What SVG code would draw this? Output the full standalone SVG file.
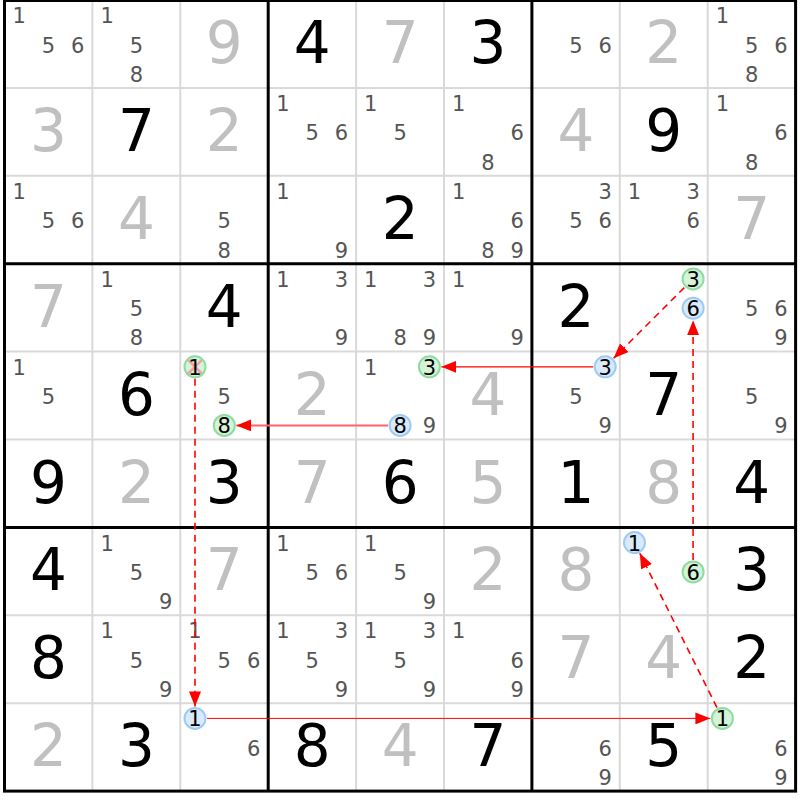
<svg xmlns="http://www.w3.org/2000/svg" width="800" height="800" viewBox="0 0 800 800">
<style>
text{font-family:"DejaVu Sans","Liberation Sans",sans-serif;text-anchor:middle}
.g{font-size:58px;fill:#000}
.s{font-size:58px;fill:#c0c0c0}
.c{font-size:21px;fill:#555}
.k{font-size:21px;fill:#000}
.cb{fill:#d9eafc;stroke:#9ccbf5;stroke-width:2}
.cg{fill:#d5f3d8;stroke:#8edc9e;stroke-width:2}
.thin{stroke:#d9d9d9;stroke-width:2}
.thick{stroke:#000;stroke-width:3}
.dash{stroke:#ff0000;stroke-width:1.6;stroke-dasharray:7 5;fill:none;marker-end:url(#ah)}
.sol{stroke:#ff0000;stroke-width:1.2;fill:none;marker-end:url(#ah)}
</style>
<defs>
<marker id="ah" markerUnits="userSpaceOnUse" markerWidth="15" markerHeight="12" refX="15" refY="6" orient="auto"><path d="M0,0 L15,6 L0,12 z" fill="#ff0000"/></marker>
</defs>
<rect x="0" y="0" width="800" height="800" fill="#fff"/>
<g id="grid">
<path class="thin" d="M92.4,0V791.1M180.3,0V791.1M356.1,0V791.1M444,0V791.1M619.8,0V791.1M707.7,0V791.1M4.5,87.9H795.6M4.5,175.8H795.6M4.5,351.6H795.6M4.5,439.5H795.6M4.5,615.3H795.6M4.5,703.2H795.6"/>
<path class="thick" d="M268.2,0V791.1M531.9,0V791.1M4.5,263.7H795.6M4.5,527.4H795.6"/>
<rect x="4.5" y="0.5" width="791.1" height="790.6" fill="none" stroke="#000" stroke-width="3"/>
</g>
<g id="cells">
<g id="r1c1" transform="translate(4.5,0)"><text class="c" x="14.7" y="23.2">1</text><text class="c" x="44" y="52.5">5</text><text class="c" x="73.3" y="52.5">6</text></g>
<g id="r1c2" transform="translate(92.4,0)"><text class="c" x="14.7" y="23.2">1</text><text class="c" x="44" y="52.5">5</text><text class="c" x="44" y="81.8">8</text></g>
<g id="r1c3" transform="translate(180.3,0)"><text class="s" x="44" y="63">9</text></g>
<g id="r1c4" transform="translate(268.2,0)"><text class="g" x="44" y="63">4</text></g>
<g id="r1c5" transform="translate(356.1,0)"><text class="s" x="44" y="63">7</text></g>
<g id="r1c6" transform="translate(444,0)"><text class="g" x="44" y="63">3</text></g>
<g id="r1c7" transform="translate(531.9,0)"><text class="c" x="44" y="52.5">5</text><text class="c" x="73.3" y="52.5">6</text></g>
<g id="r1c8" transform="translate(619.8,0)"><text class="s" x="44" y="63">2</text></g>
<g id="r1c9" transform="translate(707.7,0)"><text class="c" x="14.7" y="23.2">1</text><text class="c" x="44" y="52.5">5</text><text class="c" x="73.3" y="52.5">6</text><text class="c" x="44" y="81.8">8</text></g>

<g id="r2c1" transform="translate(4.5,87.9)"><text class="s" x="44" y="63">3</text></g>
<g id="r2c2" transform="translate(92.4,87.9)"><text class="g" x="44" y="63">7</text></g>
<g id="r2c3" transform="translate(180.3,87.9)"><text class="s" x="44" y="63">2</text></g>
<g id="r2c4" transform="translate(268.2,87.9)"><text class="c" x="14.7" y="23.2">1</text><text class="c" x="44" y="52.5">5</text><text class="c" x="73.3" y="52.5">6</text></g>
<g id="r2c5" transform="translate(356.1,87.9)"><text class="c" x="14.7" y="23.2">1</text><text class="c" x="44" y="52.5">5</text></g>
<g id="r2c6" transform="translate(444,87.9)"><text class="c" x="14.7" y="23.2">1</text><text class="c" x="73.3" y="52.5">6</text><text class="c" x="44" y="81.8">8</text></g>
<g id="r2c7" transform="translate(531.9,87.9)"><text class="s" x="44" y="63">4</text></g>
<g id="r2c8" transform="translate(619.8,87.9)"><text class="g" x="44" y="63">9</text></g>
<g id="r2c9" transform="translate(707.7,87.9)"><text class="c" x="14.7" y="23.2">1</text><text class="c" x="73.3" y="52.5">6</text><text class="c" x="44" y="81.8">8</text></g>

<g id="r3c1" transform="translate(4.5,175.8)"><text class="c" x="14.7" y="23.2">1</text><text class="c" x="44" y="52.5">5</text><text class="c" x="73.3" y="52.5">6</text></g>
<g id="r3c2" transform="translate(92.4,175.8)"><text class="s" x="44" y="63">4</text></g>
<g id="r3c3" transform="translate(180.3,175.8)"><text class="c" x="44" y="52.5">5</text><text class="c" x="44" y="81.8">8</text></g>
<g id="r3c4" transform="translate(268.2,175.8)"><text class="c" x="14.7" y="23.2">1</text><text class="c" x="73.3" y="81.8">9</text></g>
<g id="r3c5" transform="translate(356.1,175.8)"><text class="g" x="44" y="63">2</text></g>
<g id="r3c6" transform="translate(444,175.8)"><text class="c" x="14.7" y="23.2">1</text><text class="c" x="73.3" y="52.5">6</text><text class="c" x="44" y="81.8">8</text><text class="c" x="73.3" y="81.8">9</text></g>
<g id="r3c7" transform="translate(531.9,175.8)"><text class="c" x="73.3" y="23.2">3</text><text class="c" x="44" y="52.5">5</text><text class="c" x="73.3" y="52.5">6</text></g>
<g id="r3c8" transform="translate(619.8,175.8)"><text class="c" x="14.7" y="23.2">1</text><text class="c" x="73.3" y="23.2">3</text><text class="c" x="73.3" y="52.5">6</text></g>
<g id="r3c9" transform="translate(707.7,175.8)"><text class="s" x="44" y="63">7</text></g>

<g id="r4c1" transform="translate(4.5,263.7)"><text class="s" x="44" y="63">7</text></g>
<g id="r4c2" transform="translate(92.4,263.7)"><text class="c" x="14.7" y="23.2">1</text><text class="c" x="44" y="52.5">5</text><text class="c" x="44" y="81.8">8</text></g>
<g id="r4c3" transform="translate(180.3,263.7)"><text class="g" x="44" y="63">4</text></g>
<g id="r4c4" transform="translate(268.2,263.7)"><text class="c" x="14.7" y="23.2">1</text><text class="c" x="73.3" y="23.2">3</text><text class="c" x="73.3" y="81.8">9</text></g>
<g id="r4c5" transform="translate(356.1,263.7)"><text class="c" x="14.7" y="23.2">1</text><text class="c" x="73.3" y="23.2">3</text><text class="c" x="44" y="81.8">8</text><text class="c" x="73.3" y="81.8">9</text></g>
<g id="r4c6" transform="translate(444,263.7)"><text class="c" x="14.7" y="23.2">1</text><text class="c" x="73.3" y="81.8">9</text></g>
<g id="r4c7" transform="translate(531.9,263.7)"><text class="g" x="44" y="63">2</text></g>
<g id="r4c8" transform="translate(619.8,263.7)"><circle class="cg" cx="73.3" cy="15.2" r="10.5"/><text class="k" x="73.3" y="23.2">3</text><circle class="cb" cx="73.3" cy="44.5" r="10.5"/><text class="k" x="73.3" y="52.5">6</text></g>
<g id="r4c9" transform="translate(707.7,263.7)"><text class="c" x="44" y="52.5">5</text><text class="c" x="73.3" y="52.5">6</text><text class="c" x="73.3" y="81.8">9</text></g>

<g id="r5c1" transform="translate(4.5,351.6)"><text class="c" x="14.7" y="23.2">1</text><text class="c" x="44" y="52.5">5</text></g>
<g id="r5c2" transform="translate(92.4,351.6)"><text class="g" x="44" y="63">6</text></g>
<g id="r5c3" transform="translate(180.3,351.6)"><circle class="cg" cx="14.7" cy="15.2" r="10.5"/><path d="M8,8.5L21.4,21.9M21.4,8.5L8,21.9" stroke="#f2a0a0" stroke-width="2.5"/><text class="k" x="14.7" y="23.2">1</text><text class="c" x="44" y="52.5">5</text><circle class="cg" cx="44" cy="73.8" r="10.5"/><text class="k" x="44" y="81.8">8</text></g>
<g id="r5c4" transform="translate(268.2,351.6)"><text class="s" x="44" y="63">2</text></g>
<g id="r5c5" transform="translate(356.1,351.6)"><text class="c" x="14.7" y="23.2">1</text><circle class="cg" cx="73.3" cy="15.2" r="10.5"/><text class="k" x="73.3" y="23.2">3</text><circle class="cb" cx="44" cy="73.8" r="10.5"/><text class="k" x="44" y="81.8">8</text><text class="c" x="73.3" y="81.8">9</text></g>
<g id="r5c6" transform="translate(444,351.6)"><text class="s" x="44" y="63">4</text></g>
<g id="r5c7" transform="translate(531.9,351.6)"><circle class="cb" cx="73.3" cy="15.2" r="10.5"/><text class="k" x="73.3" y="23.2">3</text><text class="c" x="44" y="52.5">5</text><text class="c" x="73.3" y="81.8">9</text></g>
<g id="r5c8" transform="translate(619.8,351.6)"><text class="g" x="44" y="63">7</text></g>
<g id="r5c9" transform="translate(707.7,351.6)"><text class="c" x="44" y="52.5">5</text><text class="c" x="73.3" y="81.8">9</text></g>

<g id="r6c1" transform="translate(4.5,439.5)"><text class="g" x="44" y="63">9</text></g>
<g id="r6c2" transform="translate(92.4,439.5)"><text class="s" x="44" y="63">2</text></g>
<g id="r6c3" transform="translate(180.3,439.5)"><text class="g" x="44" y="63">3</text></g>
<g id="r6c4" transform="translate(268.2,439.5)"><text class="s" x="44" y="63">7</text></g>
<g id="r6c5" transform="translate(356.1,439.5)"><text class="g" x="44" y="63">6</text></g>
<g id="r6c6" transform="translate(444,439.5)"><text class="s" x="44" y="63">5</text></g>
<g id="r6c7" transform="translate(531.9,439.5)"><text class="g" x="44" y="63">1</text></g>
<g id="r6c8" transform="translate(619.8,439.5)"><text class="s" x="44" y="63">8</text></g>
<g id="r6c9" transform="translate(707.7,439.5)"><text class="g" x="44" y="63">4</text></g>

<g id="r7c1" transform="translate(4.5,527.4)"><text class="g" x="44" y="63">4</text></g>
<g id="r7c2" transform="translate(92.4,527.4)"><text class="c" x="14.7" y="23.2">1</text><text class="c" x="44" y="52.5">5</text><text class="c" x="73.3" y="81.8">9</text></g>
<g id="r7c3" transform="translate(180.3,527.4)"><text class="s" x="44" y="63">7</text></g>
<g id="r7c4" transform="translate(268.2,527.4)"><text class="c" x="14.7" y="23.2">1</text><text class="c" x="44" y="52.5">5</text><text class="c" x="73.3" y="52.5">6</text></g>
<g id="r7c5" transform="translate(356.1,527.4)"><text class="c" x="14.7" y="23.2">1</text><text class="c" x="44" y="52.5">5</text><text class="c" x="73.3" y="81.8">9</text></g>
<g id="r7c6" transform="translate(444,527.4)"><text class="s" x="44" y="63">2</text></g>
<g id="r7c7" transform="translate(531.9,527.4)"><text class="s" x="44" y="63">8</text></g>
<g id="r7c8" transform="translate(619.8,527.4)"><circle class="cb" cx="14.7" cy="15.2" r="10.5"/><text class="k" x="14.7" y="23.2">1</text><circle class="cg" cx="73.3" cy="44.5" r="10.5"/><text class="k" x="73.3" y="52.5">6</text></g>
<g id="r7c9" transform="translate(707.7,527.4)"><text class="g" x="44" y="63">3</text></g>

<g id="r8c1" transform="translate(4.5,615.3)"><text class="g" x="44" y="63">8</text></g>
<g id="r8c2" transform="translate(92.4,615.3)"><text class="c" x="14.7" y="23.2">1</text><text class="c" x="44" y="52.5">5</text><text class="c" x="73.3" y="81.8">9</text></g>
<g id="r8c3" transform="translate(180.3,615.3)"><text class="c" x="14.7" y="23.2">1</text><text class="c" x="44" y="52.5">5</text><text class="c" x="73.3" y="52.5">6</text></g>
<g id="r8c4" transform="translate(268.2,615.3)"><text class="c" x="14.7" y="23.2">1</text><text class="c" x="73.3" y="23.2">3</text><text class="c" x="44" y="52.5">5</text><text class="c" x="73.3" y="81.8">9</text></g>
<g id="r8c5" transform="translate(356.1,615.3)"><text class="c" x="14.7" y="23.2">1</text><text class="c" x="73.3" y="23.2">3</text><text class="c" x="44" y="52.5">5</text><text class="c" x="73.3" y="81.8">9</text></g>
<g id="r8c6" transform="translate(444,615.3)"><text class="c" x="14.7" y="23.2">1</text><text class="c" x="73.3" y="52.5">6</text><text class="c" x="73.3" y="81.8">9</text></g>
<g id="r8c7" transform="translate(531.9,615.3)"><text class="s" x="44" y="63">7</text></g>
<g id="r8c8" transform="translate(619.8,615.3)"><text class="s" x="44" y="63">4</text></g>
<g id="r8c9" transform="translate(707.7,615.3)"><text class="g" x="44" y="63">2</text></g>

<g id="r9c1" transform="translate(4.5,703.2)"><text class="s" x="44" y="63">2</text></g>
<g id="r9c2" transform="translate(92.4,703.2)"><text class="g" x="44" y="63">3</text></g>
<g id="r9c3" transform="translate(180.3,703.2)"><circle class="cb" cx="14.7" cy="15.2" r="10.5"/><text class="k" x="14.7" y="23.2">1</text><text class="c" x="73.3" y="52.5">6</text></g>
<g id="r9c4" transform="translate(268.2,703.2)"><text class="g" x="44" y="63">8</text></g>
<g id="r9c5" transform="translate(356.1,703.2)"><text class="s" x="44" y="63">4</text></g>
<g id="r9c6" transform="translate(444,703.2)"><text class="g" x="44" y="63">7</text></g>
<g id="r9c7" transform="translate(531.9,703.2)"><text class="c" x="73.3" y="52.5">6</text><text class="c" x="73.3" y="81.8">9</text></g>
<g id="r9c8" transform="translate(619.8,703.2)"><text class="g" x="44" y="63">5</text></g>
<g id="r9c9" transform="translate(707.7,703.2)"><circle class="cg" cx="14.7" cy="15.2" r="10.5"/><text class="k" x="14.7" y="23.2">1</text><text class="c" x="73.3" y="52.5">6</text><text class="c" x="73.3" y="81.8">9</text></g>
</g>
<g id="connectors">
<path class="dash" d="M684.3,287.6L613.6,358.3"/>
<path class="sol" d="M593.2,366.8H441.4"/>
<path class="sol" d="M388.1,425.4H236.3" style="stroke:#ff6464;stroke-width:2"/>
<path class="dash" d="M195,378.8V706.4"/>
<path class="sol" d="M207,718.4H710.4" style="stroke-width:1"/>
<path class="dash" d="M717,707.6L639.8,553.3"/>
<path class="dash" d="M693.1,559.9V320.2"/>
</g>
</svg>
